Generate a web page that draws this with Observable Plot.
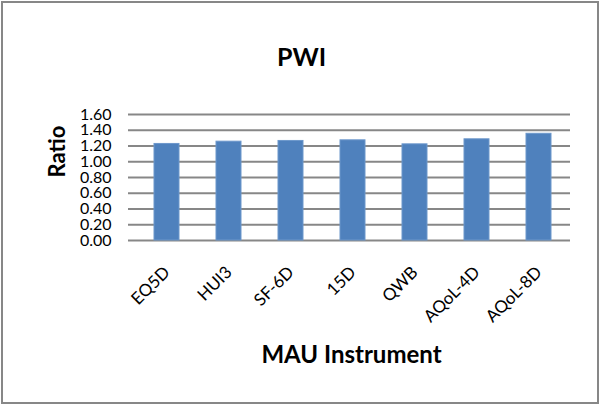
<!DOCTYPE html>
<html>
<head>
<meta charset="utf-8">
<script src="https://cdn.jsdelivr.net/npm/d3@7"></script>
<script src="https://cdn.jsdelivr.net/npm/@observablehq/plot@0.6"></script>
<style>
  html, body { margin: 0; padding: 0; background: #fff; }
  #wrap { position: relative; width: 600px; height: 405px; overflow: hidden; }
  #wrap svg { position: absolute; left: 0; top: 0; }
  #frame { position: absolute; left: 1px; top: 1px; width: 598px; height: 403px; box-sizing: border-box; border: 2px solid #878787; pointer-events: none; }
</style>
</head>
<body>
<div id="wrap"><div id="frame"></div></div>
<script>
const title = "PWI";
const xTitle = "MAU Instrument";
const yTitle = "Ratio";
const instruments = ["EQ5D", "HUI3", "SF-6D", "15D", "QWB", "AQoL-4D", "AQoL-8D"];
const ratios = [1.226, 1.255, 1.264, 1.272, 1.221, 1.285, 1.355];
const yTicks = [0, 0.2, 0.4, 0.6, 0.8, 1.0, 1.2, 1.4, 1.6];

const data = instruments.map((k, i) => ({instrument: k, ratio: ratios[i]}));
const font = "Lato, 'Open Sans', sans-serif";

const chart = Plot.plot({
  width: 600,
  height: 405,
  marginLeft: 134,
  marginRight: 30,
  marginTop: 114,
  marginBottom: 165,
  style: {fontFamily: font, color: "#000", background: "transparent"},
  x: {domain: instruments, paddingInner: 0.6, paddingOuter: 0.3, axis: null},
  y: {domain: [0, 1.6], axis: null},
  marks: [
    Plot.ruleY(yTicks, {stroke: "#878787", strokeWidth: 2}),
    Plot.axisY({ticks: yTicks, tickFormat: d => d.toFixed(2), tickSize: 6, tickPadding: 17, stroke: "#878787", strokeWidth: 2, fontSize: 16, label: null}),
    Plot.ruleX([0], {frameAnchor: "left", y1: 0, y2: 1.6, stroke: "#878787", strokeWidth: 2}),
    Plot.barY(data, {x: "instrument", y: "ratio", fill: "#4F81BD", stroke: "#6d97cb", strokeWidth: 1}),
    Plot.text(instruments, {x: d => d, frameAnchor: "bottom", rotate: -45, textAnchor: "end", lineAnchor: "middle", dx: 0, dy: 29, fontSize: 17, fill: "#000"}),
    Plot.text([xTitle], {frameAnchor: "bottom", dx: -1, dy: 115, lineAnchor: "middle", fontSize: 24, fontWeight: "bold", fill: "#000"}),
    Plot.text([yTitle], {frameAnchor: "left", dx: -77, rotate: -90, lineAnchor: "middle", fontSize: 22, fontWeight: "bold", fill: "#000"}),
    Plot.text([title], {frameAnchor: "top", dx: -51, dy: -57, lineAnchor: "middle", fontSize: 25, fontWeight: "bold", fill: "#000"})
  ]
});
document.getElementById("wrap").insertBefore(chart, document.getElementById("frame"));
</script>
</body>
</html>
